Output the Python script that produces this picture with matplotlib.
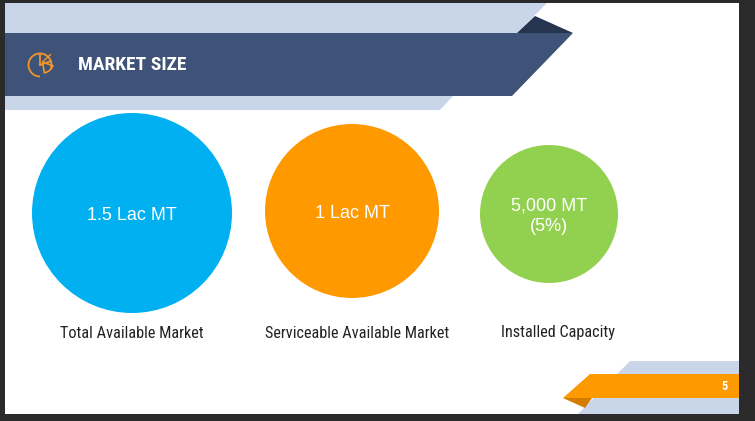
import matplotlib
matplotlib.use("Agg")
import matplotlib.pyplot as plt
from matplotlib.patches import Circle, Polygon, Rectangle, Wedge, Arc

# ---- data ----
title = "MARKET SIZE"
categories = ["Total Available Market", "Serviceable Available Market", "Installed Capacity"]
value_labels = ["1.5 Lac MT", "1 Lac MT", "5,000 MT\n(5%)"]
page_number = "5"

# ---- layout / style ----
centers = [(132, 213), (352, 211), (549, 214)]
radii = [100, 87, 69]
label_pos = [(132, 333), (357, 333), (558, 333)]
colors = ["#00b0f0", "#ff9900", "#92d050"]

W, H = 755, 421
fig = plt.figure(figsize=(W / 100, H / 100), dpi=100)
fig.patch.set_facecolor("#2a2a2a")
ax = fig.add_axes([0, 0, 1, 1])
ax.set_xlim(0, W)
ax.set_ylim(H, 0)
ax.axis("off")

narrow = ["Roboto Condensed", "Liberation Sans Narrow", "Roboto", "DejaVu Sans"]
sans = ["Liberation Sans", "DejaVu Sans"]

# slide
ax.add_patch(Rectangle((5, 3), 734, 411, facecolor="white", edgecolor="none"))

# header
light = "#c9d5e8"
navy = "#3f5277"
dark = "#263450"
ax.add_patch(Polygon([(5, 3), (547, 3), (517, 33), (5, 33)], closed=True, fc=light, ec="none"))
ax.add_patch(Polygon([(5, 96), (453, 96), (440, 110), (5, 110)], closed=True, fc=light, ec="none"))
ax.add_patch(Polygon([(535, 16), (573, 33), (517, 33)], closed=True, fc=dark, ec="none"))
ax.add_patch(Polygon([(5, 33), (573, 33), (512, 96), (5, 96)], closed=True, fc=navy, ec="none"))

# icon (pie with exploded slice)
oc = "#f0962a"
ic = (40, 65)
ax.add_patch(Arc(ic, 23, 23, theta1=90, theta2=380, color=oc, lw=1.3))
ax.plot([ic[0], ic[0]], [ic[1], ic[1] - 11.5], color=oc, lw=1.3)
ax.plot([ic[0], ic[0] + 10.8], [ic[1], ic[1] - 3.9], color=oc, lw=1.3)
sc = (ic[0] + 2.5, ic[1] - 3)
ax.add_patch(Wedge(sc, 11, 20, 80, fill=False, ec=oc, lw=1.2))
ax.plot([sc[0], sc[0] + 8], [sc[1], sc[1] - 7.5], color=oc, lw=1.0)

ax.text(78, 65, title, color="white", fontsize=14, fontweight="bold",
        family=narrow, ha="left", va="center")

# circles
for (cx, cy), r, c, v, lab, (lx, ly) in zip(centers, radii, colors, value_labels,
                                             categories, label_pos):
    ax.add_patch(Circle((cx, cy), r, fc=c, ec="none"))
    ax.text(cx, cy + 2.5, v, color="white", fontsize=13, family=sans,
            ha="center", va="center", linespacing=1.3)
    ax.text(lx, ly, lab, color="#222222", fontsize=11.7, family=narrow,
            ha="center", va="center")

# footer
ax.add_patch(Polygon([(630, 361), (739, 361), (739, 414), (578, 414)], closed=True,
                     fc=light, ec="none"))
ax.add_patch(Polygon([(563, 398), (585, 408), (592, 398)], closed=True, fc="#d47c00", ec="none"))
ax.add_patch(Polygon([(590, 374), (739, 374), (739, 398), (563, 398)], closed=True,
                     fc="#ff9900", ec="none"))
ax.text(725, 387, page_number, color="white", fontsize=9, fontweight="bold",
        family=narrow, ha="center", va="center")

fig.savefig("out.png", dpi=100, facecolor=fig.get_facecolor())
